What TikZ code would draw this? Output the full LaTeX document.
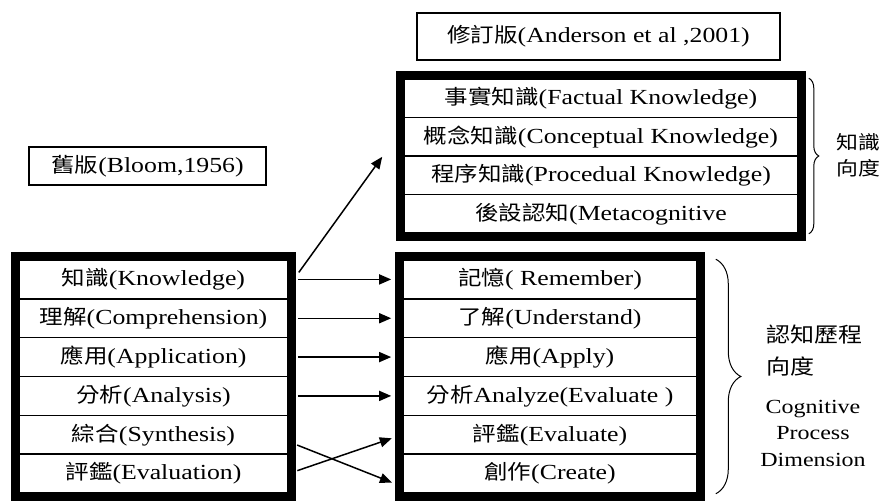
\documentclass[tikz,border=0pt]{standalone}
\usepackage{fontspec}
\setmainfont{Liberation Serif}[FakeStretch=1.2]
\newfontfamily\cjk{Noto Sans CJK TC}[FakeStretch=1.15,Scale=0.95]
\newcommand{\zh}[1]{{\cjk #1}}
\usetikzlibrary{arrows.meta}
\usetikzlibrary{decorations.pathreplacing, math}
\usetikzlibrary{positioning}

\tikzset{
  stage/.style={draw, line width=1.6pt, inner sep=0pt, font=\fontsize{21.5}{24}\selectfont},
  thickframe/.style={line width=7pt},
  titlebox/.style={draw, line width=1.3pt, inner sep=0pt, font=\fontsize{21.5}{24}\selectfont},
  flow/.style={-{Triangle[length=12pt,width=10pt]}, line width=1.5pt, shorten <=9pt, shorten >=11pt},
  brc/.style={decorate, decoration={brace, amplitude=#1, aspect=0.5}, line width=1pt},
}

\begin{document}
\begin{tikzpicture}[x=1pt, y=1pt]
\tikzmath{
\rh=38.83;
\th=38.5;
}
\useasboundingbox (0,0) rectangle (886,-501);

% titles
\node[titlebox, minimum width=363pt, minimum height=47pt] (newtitle) at (598.5,-36.5) {\zh{修訂版}(Anderson et al ,2001)};
\node[titlebox, minimum width=237pt, minimum height=38pt] (oldtitle) at (147.5,-166) {\zh{舊版}(Bloom,1956)};

% knowledge dimension
\foreach \t [count=\i] in {{\zh{事實知識}(Factual Knowledge)}, {\zh{概念知識}(Conceptual Knowledge)}, {\zh{程序知識}(Procedual Knowledge)}, {\zh{後設認知}(Metacognitive}}
  \node[stage, minimum width=394pt, minimum height=\th pt] (T\i) at (601,{-79-\th*(\i-0.5)}) {\t};
\draw[thickframe] ([shift={(-3.5,3.5)}]T1.north west) rectangle ([shift={(3.5,-3.5)}]T4.south east);

% old version
\foreach \t [count=\i] in {{\zh{知識}(Knowledge)}, {\zh{理解}(Comprehension)}, {\zh{應用}(Application)}, {\zh{分析}(Analysis)}, {\zh{綜合}(Synthesis)}, {\zh{評鑑}(Evaluation)}}
  \node[stage, minimum width=269pt, minimum height=\rh pt] (L\i) at (153.5,{-260-\rh*(\i-0.5)}) {\t};
\draw[thickframe] ([shift={(-3.5,3.5)}]L1.north west) rectangle ([shift={(3.5,-3.5)}]L6.south east);

% revised version
\foreach \t [count=\i] in {{\zh{記憶}( Remember)}, {\zh{了解}(Understand)}, {\zh{應用}(Apply)}, {\zh{分析}Analyze(Evaluate )}, {\zh{評鑑}(Evaluate)}, {\zh{創作}(Create)}}
  \node[stage, minimum width=294pt, minimum height=\rh pt] (R\i) at (550,{-260-\rh*(\i-0.5)}) {\t};
\draw[thickframe] ([shift={(-3.5,3.5)}]R1.north west) rectangle ([shift={(3.5,-3.5)}]R6.south east);

% arrows
\foreach \i in {1,...,4}
  \draw[flow] (L\i.east) -- (R\i.west);
\draw[flow] ([yshift=-7pt]L5.east) -- ([yshift=-13pt]R6.west);
\draw[flow] (L6.east) -- (R5.west);
\draw[flow, shorten <=0pt, shorten >=0pt] ([shift={(10pt,7pt)}]L1.east) -- ([xshift=-21pt]T2.south west);

% braces
\draw[brc=10pt] ([xshift=10pt]T1.north east) -- ([xshift=10pt]T4.south east);
\draw[brc=25pt] ([xshift=18pt]R1.north east) -- ([xshift=18pt]R6.south east);

\node[anchor=west, align=left, inner sep=0pt, font=\fontsize{20}{26}\cjk] (kdim) at (836,-155) {知識\\向度};
\node[anchor=west, align=left, inner sep=0pt, font=\fontsize{22}{32}\cjk] (cdim) at (766,-351) {認知歷程\\向度};
\node[align=center, inner sep=0pt, font=\fontsize{20}{26.5}\selectfont] (cpd) at (813,-433) {Cognitive\\Process\\Dimension};
\end{tikzpicture}
\end{document}
